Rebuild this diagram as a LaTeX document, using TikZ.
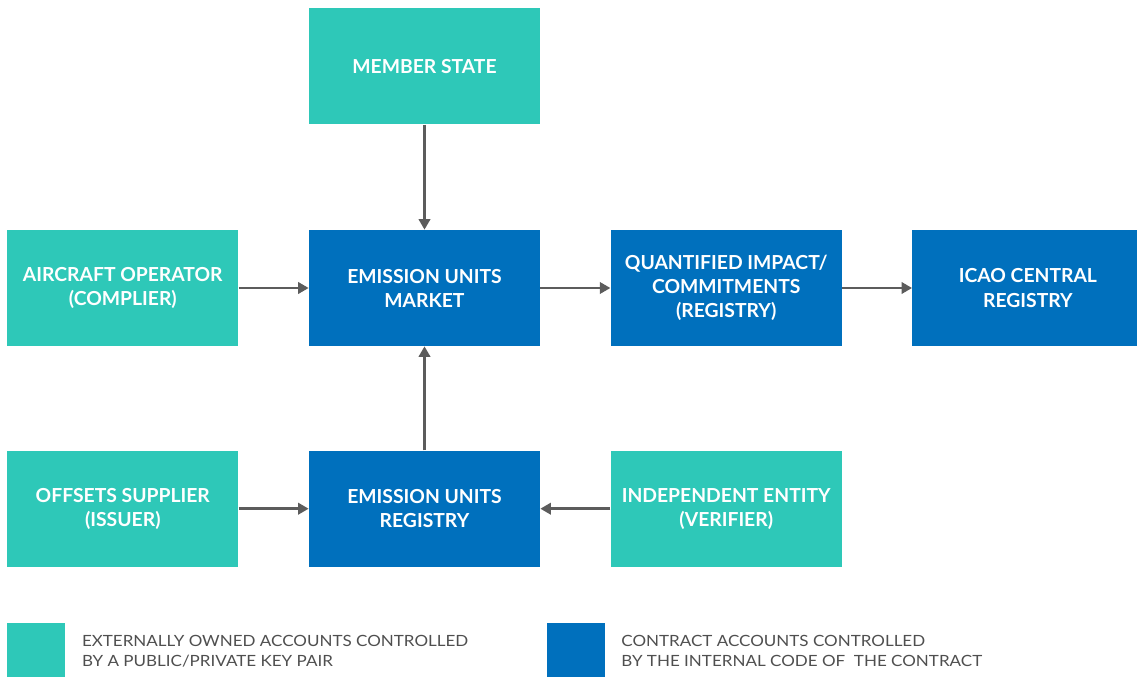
\documentclass[tikz,border=0pt]{standalone}
\usepackage{fontspec}
\setmainfont{Lato}
\newfontfamily\legfont[FakeStretch=1.1]{Lato}
\usetikzlibrary{positioning,arrows.meta}
\definecolor{eoa}{HTML}{2EC8B8}
\definecolor{ca}{HTML}{0070BD}
\definecolor{arr}{HTML}{5C5C5C}
\definecolor{legtext}{HTML}{4F4F4F}

\begin{document}
\begin{tikzpicture}[node distance = 2.1cm and 1.4cm,
    box/.style = {minimum width=4.62cm, minimum height=2.32cm, inner sep=2pt,
        align=center, text=white, font=\fontsize{11}{13.7}\selectfont\bfseries},
    extbox/.style = {box, fill=eoa},
    conbox/.style = {box, fill=ca},
    legbox/.style = {minimum width=1.16cm, minimum height=1.1cm, inner sep=0pt},
    legtxt/.style = {align=left, text=legtext, inner sep=0pt,
        font=\legfont\fontsize{8.8}{11.4}\selectfont},
    flow/.style = {draw=arr, line width=1.4pt, -{Triangle[length=6pt,width=6.5pt]}}]%
    \useasboundingbox (0,0) rectangle (22.74,-13.54);
    \node (market) [conbox] at (8.49,-5.76) {EMISSION UNITS\\MARKET};
    \node (state) [extbox, above=of market] {MEMBER STATE};
    \node (operator) [extbox, left=of market] {AIRCRAFT OPERATOR\\(COMPLIER)};
    \node (impact) [conbox, right=of market] {QUANTIFIED IMPACT/\\COMMITMENTS\\(REGISTRY)};
    \node (icao) [conbox, right=of impact] {ICAO CENTRAL\\REGISTRY};
    \node (registry) [conbox, below=2.08cm of market] {EMISSION UNITS\\REGISTRY};
    \node (supplier) [extbox, left=of registry] {OFFSETS SUPPLIER\\(ISSUER)};
    \node (entity) [extbox, right=of registry] {INDEPENDENT ENTITY\\(VERIFIER)};
    % legend
    \node (legext) [legbox, fill=eoa, below=1.12cm of supplier.south west, anchor=north west] {};
    \node (legexttxt) [legtxt, right=0.32cm of legext] {EXTERNALLY OWNED ACCOUNTS CONTROLLED\\BY A PUBLIC/PRIVATE KEY PAIR};
    \node (legcon) [legbox, fill=ca, below=1.12cm of registry.south east, anchor=north west, xshift=0.12cm] {};
    \node (legcontxt) [legtxt, right=0.32cm of legcon] {CONTRACT ACCOUNTS CONTROLLED\\BY THE INTERNAL CODE OF~ THE CONTRACT};
    % flows
    \draw[flow] (state) -- (market);
    \draw[flow] (operator) -- (market);
    \draw[flow] (market) -- (impact);
    \draw[flow] (impact) -- (icao);
    \draw[flow] (registry) -- (market);
    \draw[flow] (supplier) -- (registry);
    \draw[flow] (entity) -- (registry);
\end{tikzpicture}
\end{document}
